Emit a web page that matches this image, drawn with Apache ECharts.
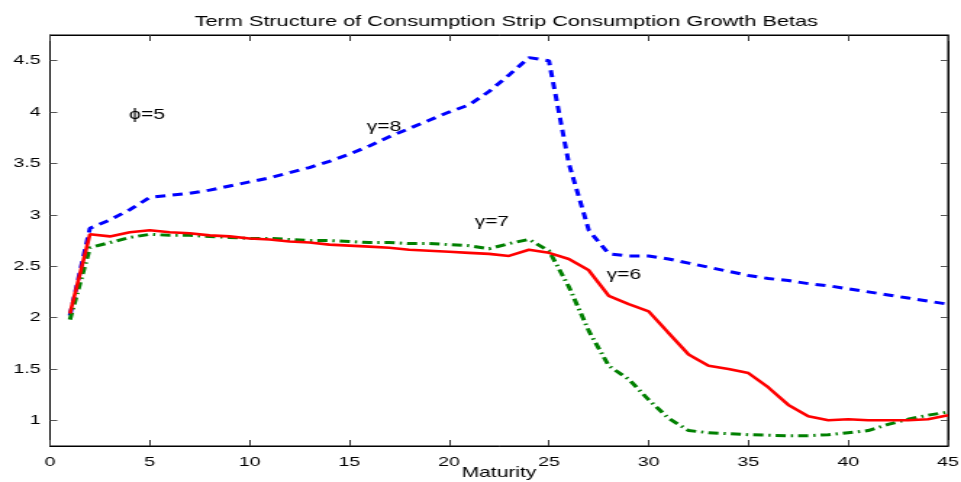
<!DOCTYPE html>
<html>
<head>
<meta charset="utf-8">
<script src="https://cdn.jsdelivr.net/npm/echarts@6/dist/echarts.min.js"></script>
<style>
  html, body { margin: 0; padding: 0; background: #fff; overflow: hidden; }
  /* The figure is laid out narrow and widened horizontally, like a
     resized MATLAB export: text and steep segments come out broad. */
  #chart { width: 663px; height: 482px; transform: scaleX(1.4495); transform-origin: 0 0; }
</style>
</head>
<body>
<div id="chart"></div>
<script>
// Maturities 1..45
const maturity = [1,2,3,4,5,6,7,8,9,10,11,12,13,14,15,16,17,18,19,20,21,22,23,24,25,26,27,28,29,30,31,32,33,34,35,36,37,38,39,40,41,42,43,44,45];

// Consumption growth betas, gamma = 8
const betaGamma8 = [2.02,2.87,2.95,3.05,3.17,3.19,3.21,3.24,3.28,3.32,3.36,3.41,3.46,3.52,3.59,3.67,3.76,3.84,3.92,4.00,4.07,4.20,4.36,4.53,4.50,3.50,2.85,2.62,2.60,2.60,2.57,2.53,2.49,2.45,2.41,2.38,2.36,2.33,2.31,2.28,2.25,2.22,2.19,2.16,2.13];

// gamma = 6
const betaGamma6 = [2.04,2.81,2.79,2.83,2.85,2.83,2.82,2.80,2.79,2.77,2.76,2.74,2.73,2.71,2.70,2.69,2.68,2.66,2.65,2.64,2.63,2.62,2.60,2.66,2.63,2.57,2.46,2.21,2.13,2.06,1.85,1.64,1.53,1.50,1.46,1.32,1.15,1.04,1.00,1.01,1.00,1.00,1.00,1.01,1.05];

// gamma = 7
const betaGamma7 = [1.98,2.68,2.73,2.78,2.81,2.80,2.80,2.79,2.78,2.77,2.77,2.76,2.75,2.75,2.74,2.73,2.73,2.72,2.72,2.71,2.70,2.67,2.72,2.76,2.65,2.30,1.87,1.53,1.40,1.20,1.02,0.90,0.88,0.87,0.86,0.855,0.85,0.85,0.86,0.88,0.90,0.96,1.01,1.05,1.08];

// Y tick values
const yTicks = [1, 1.5, 2, 2.5, 3, 3.5, 4, 4.5];

// Curve labels placed in data coordinates
const labelText = ['\u03D5=5', '\u03B3=8', '\u03B3=7', '\u03B3=6'];
const labelX = [4.86, 16.73, 22.14, 28.76];
const labelY = [3.97, 3.85, 2.93, 2.41];

const FONT = 'Liberation Sans, Arial, Helvetica, sans-serif';

function pairs(xs, ys) { return xs.map((x, i) => [x, ys[i]]); }

const chart = echarts.init(document.getElementById('chart'), null, { renderer: 'canvas' });

const GRID_LEFT = 34.5, GRID_RIGHT = 9;
const axisLine = { show: true, onZero: false, lineStyle: { color: '#000', width: 1 } };
const labelStyle = { color: '#000', fontFamily: FONT, fontSize: 13.5 };

chart.setOption({
  animation: false,
  backgroundColor: '#fff',
  title: {
    text: 'Term Structure of Consumption Strip Consumption Growth Betas',
    left: GRID_LEFT + (663 - GRID_LEFT - GRID_RIGHT) / 2, textAlign: 'center', top: 9,
    textStyle: { fontFamily: FONT, fontSize: 15, fontWeight: 'normal', color: '#000' }
  },
  grid: {
    left: GRID_LEFT, right: GRID_RIGHT, top: 35, bottom: 36,
    outerBoundsMode: 'none',
    show: true, borderColor: '#000', borderWidth: 1
  },
  xAxis: [
    {
      type: 'value', min: 0, max: 45, interval: 5, position: 'bottom',
      axisLine: axisLine, splitLine: { show: false },
      axisTick: { show: true, inside: true, length: 6, lineStyle: { color: '#333' } },
      axisLabel: Object.assign({ margin: 9 }, labelStyle),
      name: 'Maturity', nameLocation: 'middle', nameGap: 19, nameMoveOverlap: false,
      nameTextStyle: { fontFamily: FONT, fontSize: 14.5, color: '#000' }
    },
    {
      type: 'value', min: 0, max: 45, interval: 5, position: 'top',
      axisLine: axisLine, splitLine: { show: false },
      axisTick: { show: true, inside: true, length: 6, lineStyle: { color: '#333' } },
      axisLabel: { show: false }
    }
  ],
  yAxis: [
    {
      type: 'value', min: 0.75, max: 4.75, position: 'left',
      axisLine: axisLine, splitLine: { show: false },
      axisTick: { show: true, inside: true, length: 5, customValues: yTicks, lineStyle: { color: '#555' } },
      axisLabel: Object.assign({ margin: 6.5, customValues: yTicks }, labelStyle)
    },
    {
      type: 'value', min: 0.75, max: 4.75, position: 'right',
      axisLine: axisLine, splitLine: { show: false },
      axisTick: { show: true, inside: true, length: 5, customValues: yTicks, lineStyle: { color: '#555' } },
      axisLabel: { show: false, customValues: yTicks }
    }
  ],
  series: [
    {
      name: 'gamma8', type: 'line', data: pairs(maturity, betaGamma8),
      showSymbol: false, symbol: 'none', z: 3,
      lineStyle: { color: '#0000ff', width: 3, type: [7, 5] }
    },
    {
      name: 'gamma7', type: 'line', data: pairs(maturity, betaGamma7),
      showSymbol: false, symbol: 'none', z: 4,
      lineStyle: { color: '#008000', width: 3, type: [7, 3.5, 1.5, 3.5] }
    },
    {
      name: 'gamma6', type: 'line', data: pairs(maturity, betaGamma6),
      showSymbol: false, symbol: 'none', z: 5,
      lineStyle: { color: '#ff0000', width: 2.6, type: 'solid' }
    },
    {
      name: 'labels', type: 'scatter', symbolSize: 0, z: 6, silent: true,
      itemStyle: { opacity: 1 },
      data: labelText.map((t, i) => ({ value: [labelX[i], labelY[i]], name: t })),
      label: {
        show: true, position: 'inside', formatter: p => p.name,
        fontFamily: FONT, fontSize: 14.5, color: '#000'
      }
    }
  ]
});
</script>
</body>
</html>
